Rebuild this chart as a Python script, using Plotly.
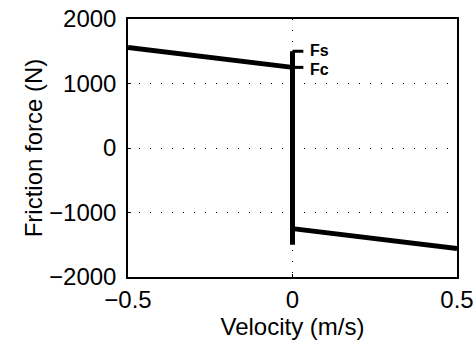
import plotly.graph_objects as go

# Data
v_neg = [-0.5, 0.0]
f_neg = [1560, 1250]
v_pos = [0.0, 0.5]
f_pos = [-1250, -1560]
v_jump = [0.0, 0.0]
f_jump = [-1500, 1500]
fs_x = [0.0, 0.033]
fs_y = [1500, 1500]
fc_x = [0.0, 0.033]
fc_y = [1250, 1250]
labels = ["Fs", "Fc"]
label_y = [1510, 1220]
xticks = [-0.5, 0, 0.5]
yticks = [-2000, -1000, 0, 1000, 2000]

fig = go.Figure()
line = dict(color="black", width=5)
fig.add_trace(go.Scatter(x=v_neg, y=f_neg, mode="lines", line=line))
fig.add_trace(go.Scatter(x=v_pos, y=f_pos, mode="lines", line=line))
fig.add_trace(go.Scatter(x=v_jump, y=f_jump, mode="lines", line=line))
fig.add_trace(go.Scatter(x=fs_x, y=fs_y, mode="lines", line=dict(color="black", width=3)))
fig.add_trace(go.Scatter(x=fc_x, y=fc_y, mode="lines", line=dict(color="black", width=3)))

for t, yv in zip(labels, label_y):
    fig.add_annotation(x=0.05, y=yv, text="<b>%s</b>" % t, showarrow=False,
                       xanchor="left", yanchor="middle", borderpad=0,
                       font=dict(family="Liberation Sans, Arial", size=16, color="black"))

font = dict(family="Liberation Sans, Arial", size=24, color="black")
fig.update_layout(
    width=476, height=347,
    margin=dict(l=128, r=19, t=19, b=70, autoexpand=False),
    paper_bgcolor="white", plot_bgcolor="white",
    showlegend=False,
    font=font,
)
axcommon = dict(showline=True, linecolor="black", linewidth=1.5, mirror=True,
                ticks="inside", ticklen=3, tickcolor="black", automargin=False,
                showgrid=True, gridcolor="black", griddash="1px,10px", gridwidth=1,
                zeroline=False, tickfont=font)
fig.update_xaxes(range=[-0.5, 0.5], tickvals=xticks,
                 ticktext=["\u22120.5", "0", "0.5"], ticklabelstandoff=0,
                 title=dict(text="Velocity (m/s)", font=font, standoff=1), **axcommon)
fig.update_yaxes(range=[-2000, 2000], tickvals=yticks,
                 ticktext=["\u22122000", "\u22121000", "0", "1000", "2000"],
                 ticklabelstandoff=5,
                 title=dict(text="Friction force (N)", font=font, standoff=0), **axcommon)

fig.write_html("out.html")
